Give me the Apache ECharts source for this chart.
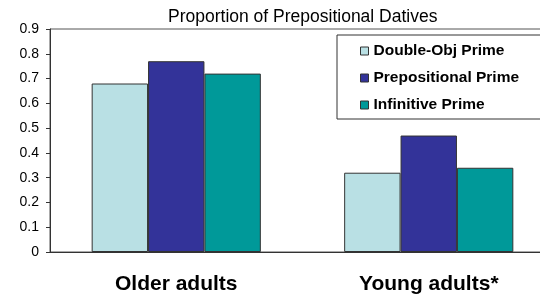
<!DOCTYPE html>
<html>
<head>
<meta charset="utf-8">
<script src="https://cdn.jsdelivr.net/npm/echarts@6/dist/echarts.min.js"></script>
<style>
  html, body { margin: 0; padding: 0; background: #fff; }
  #chart { width: 540px; height: 295px; }
</style>
</head>
<body>
<div id="chart"></div>
<script>
// data
var groups = ['Older adults', 'Young adults*'];
var seriesNames = ['Double-Obj Prime', 'Prepositional Prime', 'Infinitive Prime'];
var doubleObj = [0.68, 0.32];
var prepositional = [0.77, 0.47];
var infinitive = [0.72, 0.34];
var colors = ['#b9e0e4', '#333399', '#009999'];

var myChart = echarts.init(document.getElementById('chart'));

function makeBar(name, vals, color) {
    return {
        name: name,
        type: 'bar',
        data: vals,
        barGap: '0%',
        barCategoryGap: '33%',
        itemStyle: {
            color: color,
            borderColor: '#333',
            borderWidth: 1
        }
    };
}

var option = {
    animation: false,
    backgroundColor: '#fff',
    textStyle: { fontFamily: 'Liberation Sans, Arial, sans-serif', color: '#000' },
    title: {
        text: 'Proportion of Prepositional Datives',
        left: 168,
        top: 8,
        padding: 0,
        textStyle: { fontSize: 17.5, fontWeight: 'normal', color: '#000' }
    },
    legend: {
        orient: 'vertical',
        left: 337,
        top: 35,
        data: seriesNames,
        itemWidth: 8,
        itemHeight: 8,
        itemGap: 11,
        // box runs off the right edge in the original
        padding: [8, 40, 6, 23],
        borderColor: '#333',
        borderWidth: 1,
        icon: 'rect',
        itemStyle: { borderColor: '#333', borderWidth: 1 },
        textStyle: { fontSize: 15.5, fontWeight: 'bold', color: '#000', lineHeight: 16 }
    },
    grid: {
        show: true,
        left: 50,
        width: 505,
        top: 29,
        bottom: 43,
        outerBoundsMode: 'none',
        containLabel: false,
        borderColor: '#555',
        borderWidth: 1
    },
    xAxis: {
        type: 'category',
        data: groups,
        axisLine: { lineStyle: { color: '#333' } },
        axisTick: { show: false },
        axisLabel: { fontSize: 21, fontWeight: 'bold', color: '#000', margin: 22 }
    },
    yAxis: {
        type: 'value',
        min: 0,
        max: 0.9,
        interval: 0.1,
        axisLine: { show: true, lineStyle: { color: '#333' } },
        axisTick: { show: true, length: 4, lineStyle: { color: '#333' } },
        splitLine: { show: false },
        axisLabel: { fontSize: 14, color: '#000', margin: 11 }
    },
    series: [
        makeBar(seriesNames[0], doubleObj, colors[0]),
        makeBar(seriesNames[1], prepositional, colors[1]),
        makeBar(seriesNames[2], infinitive, colors[2])
    ]
};

myChart.setOption(option);
</script>
</body>
</html>
